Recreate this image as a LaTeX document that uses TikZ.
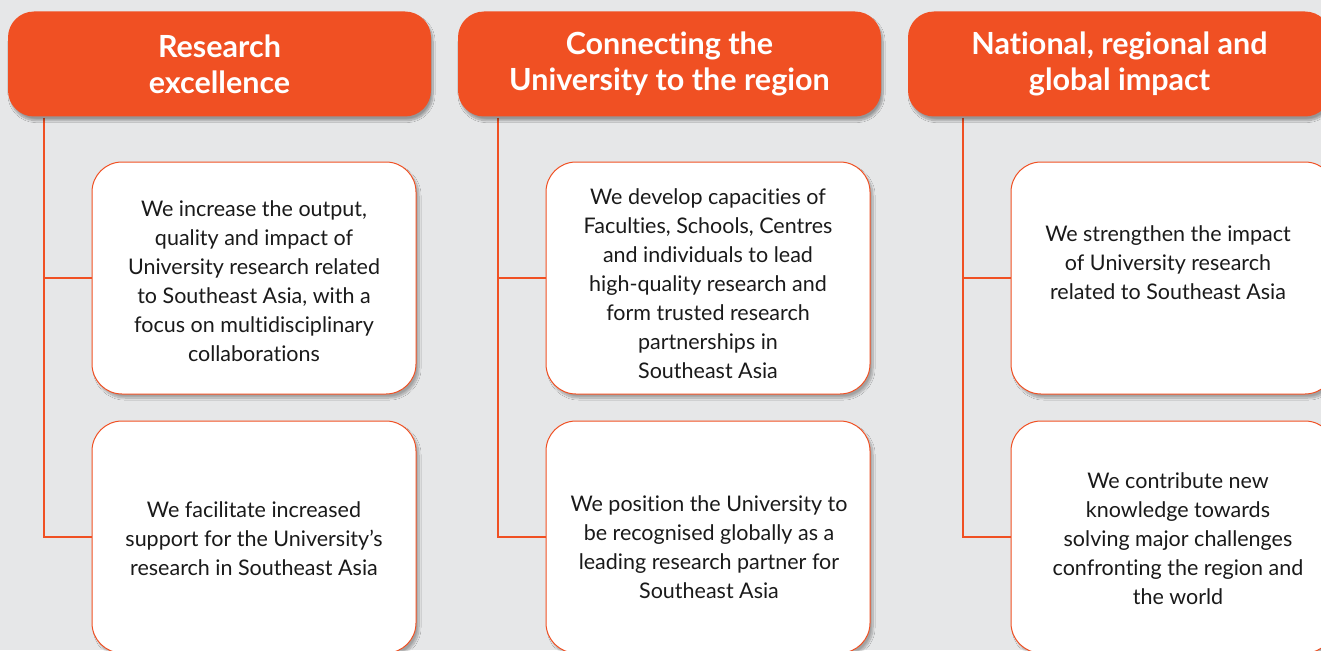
\documentclass[tikz,border=0pt]{standalone}
\usepackage{fontspec}
\setmainfont[Ligatures={NoCommon}]{Lato}
\usetikzlibrary{shadows.blur,calc}
\definecolor{bg}{HTML}{E6E7E8}
\definecolor{brand}{HTML}{F05023}
\definecolor{ink}{HTML}{1A1A1A}
\begin{document}
\begin{tikzpicture}[x=1pt,y=-1pt,
  head/.style={fill=brand, rounded corners=26pt, minimum width=423pt, minimum height=105pt,
    text=white, font=\bfseries\fontsize{30.5}{36}\selectfont, align=center, inner sep=0pt,
    blur shadow={shadow xshift=2pt, shadow yshift=-4pt, shadow blur steps=12, shadow opacity=35}},
  card/.style={fill=white, draw=brand, line width=1pt, rounded corners=30pt,
    minimum width=324pt, minimum height=232pt, inner sep=0pt,
    blur shadow={shadow xshift=3pt, shadow yshift=-4pt, shadow blur steps=12, shadow opacity=30}},
  body/.style={text=ink, font=\fontsize{21.5}{29}\selectfont, align=center, inner sep=0pt},
  conn/.style={draw=brand, line width=1.2pt}]
\useasboundingbox (0,0) rectangle (1321,650);
\fill[bg] (0,0) rectangle (1321,650);
\begin{scope}
\clip (0,0) rectangle (1321,650);
% column anchors for the trunk lines
\coordinate (t1) at (44,118);
\coordinate (t2) at (498,118);
\coordinate (t3) at (963,118);
% cards
\node[card] (c1a) at (254,278) {};
\node[card] (c1b) at (254,537) {};
\node[card] (c2a) at (708,278) {};
\node[card] (c2b) at (708,537) {};
\node[card] (c3a) at (1173,278) {};
\node[card] (c3b) at (1173,537) {};
% connectors
\draw[conn] (t1) |- (c1b.west);
\draw[conn] (t1 |- c1a.west) -- (c1a.west);
\draw[conn] (t2) |- (c2b.west);
\draw[conn] (t2 |- c2a.west) -- (c2a.west);
\draw[conn] (t3) |- (c3b.west);
\draw[conn] (t3 |- c3a.west) -- (c3a.west);
% headers
\node[head] (h1) at (219.5,64) {Research\\excellence};
\node[head] (h2) at (669.5,64) {Connecting the\\University to the region};
\node[head] (h3) at (1119.5,64) {National, regional and\\global impact};
% texts
\node[body] (x1a) at (254,281) {We increase the output,\\quality and impact of\\University research related\\to Southeast Asia, with a\\focus on multidisciplinary\\collaborations};
\node[body] (x1b) at (254,539) {We facilitate increased\\support for the University’s\\research in Southeast Asia};
\node[body] (x2a) at (708,284) {We develop capacities of\\Faculties, Schools, Centres\\and individuals to lead\\high-quality research and\\form trusted research\\partnerships in\\Southeast Asia};
\node[body] (x2b) at (709,547) {We position the University to\\be recognised globally as a\\leading research partner for\\Southeast Asia};
\node[body] (x3a) at (1168,263) {We strengthen the impact\\of University research\\related to Southeast Asia};
\node[body] (x3b) at (1178,539) {We contribute new\\knowledge towards\\solving major challenges\\confronting the region and\\the world};
\end{scope}
\end{tikzpicture}
\end{document}
